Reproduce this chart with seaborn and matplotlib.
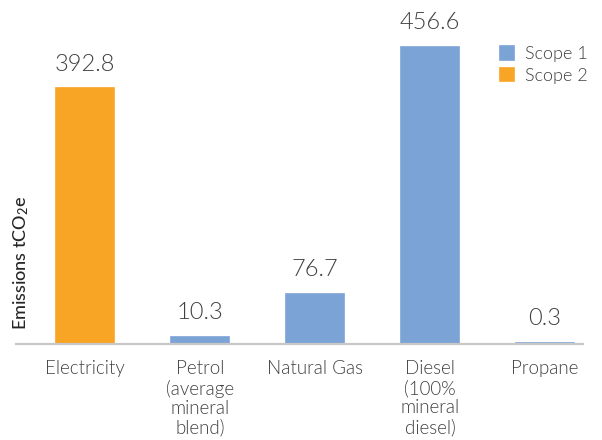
import matplotlib
matplotlib.use("Agg")
import matplotlib.pyplot as plt
import seaborn as sns
import pandas as pd

categories = ["Electricity", "Petrol\n(average\nmineral\nblend)", "Natural Gas",
              "Diesel\n(100%\nmineral\ndiesel)", "Propane"]
scopes = ["Scope 2", "Scope 1", "Scope 1", "Scope 1", "Scope 1"]
values = [392.8, 10.3, 76.7, 456.6, 0.3]
value_labels = ["392.8", "10.3", "76.7", "456.6", "0.3"]
hue_order = ["Scope 1", "Scope 2"]
palette = {"Scope 1": "#7BA3D5", "Scope 2": "#F8A425"}

sns.set_theme(style="white")
plt.rcParams["font.family"] = ["Lato", "DejaVu Sans"]
plt.rcParams["mathtext.fontset"] = "custom"
plt.rcParams["mathtext.rm"] = "Lato:medium"
plt.rcParams["mathtext.it"] = "Lato:medium"
plt.rcParams["mathtext.bf"] = "Lato:bold"

df = pd.DataFrame({"cat": categories, "scope": scopes, "val": values})

fig = plt.figure(figsize=(6.02, 4.40), dpi=100)
ax = fig.add_axes([16 / 602, (440 - 343.5) / 440, (583 - 16) / 602, 343.5 / 440])

sns.barplot(data=df, x="cat", y="val", hue="scope", hue_order=hue_order,
            palette=palette, dodge=False, width=0.5, ax=ax, saturation=1,
            legend=True)

for patch in ax.patches:
    patch.set_edgecolor(patch.get_facecolor())
    patch.set_linewidth(1.2)

ax.set_xlim(-0.6, 4.33)
ax.set_ylim(0, 343.5 / 0.6494)

for cont in ax.containers:
    labs = []
    for bar in cont:
        h = bar.get_height()
        if h != h or h == 0:
            labs.append("")
        else:
            r = round(h, 1)
            labs.append(value_labels[values.index(r)] if r in values else f"{h:.1f}")
    ax.bar_label(cont, labels=labs, padding=10, fontsize=17, color="#404040",
                 fontweight=300)

for s in ["top", "right", "left"]:
    ax.spines[s].set_visible(False)
ax.spines["bottom"].set_color("#C8C8C8")
ax.spines["bottom"].set_linewidth(1.6)

ax.set_yticks([])
ax.set_xlabel("")
ax.set_ylabel("")
ax.tick_params(axis="x", length=0, pad=12)
for t in ax.get_xticklabels():
    t.set_fontsize(13.5)
    t.set_color("#404040")
    t.set_fontweight(300)
    t.set_linespacing(1.15)
    t.set_multialignment("center")

fig.text(21 / 602, (440 - 263) / 440, r"Emissions tCO$_2$e", rotation=90,
         ha="center", va="center", fontsize=13, color="#262626",
         fontweight="medium")

leg = ax.legend(loc="upper left", bbox_to_anchor=(484 / 602, (440 - 30) / 440),
                bbox_transform=fig.transFigure, frameon=False, fontsize=13,
                handlelength=0.75, handleheight=0.75, handletextpad=0.6,
                labelspacing=0.3, labelcolor="#404040",
                prop={"weight": 300, "size": 13})

fig.savefig("out.png", dpi=100)
